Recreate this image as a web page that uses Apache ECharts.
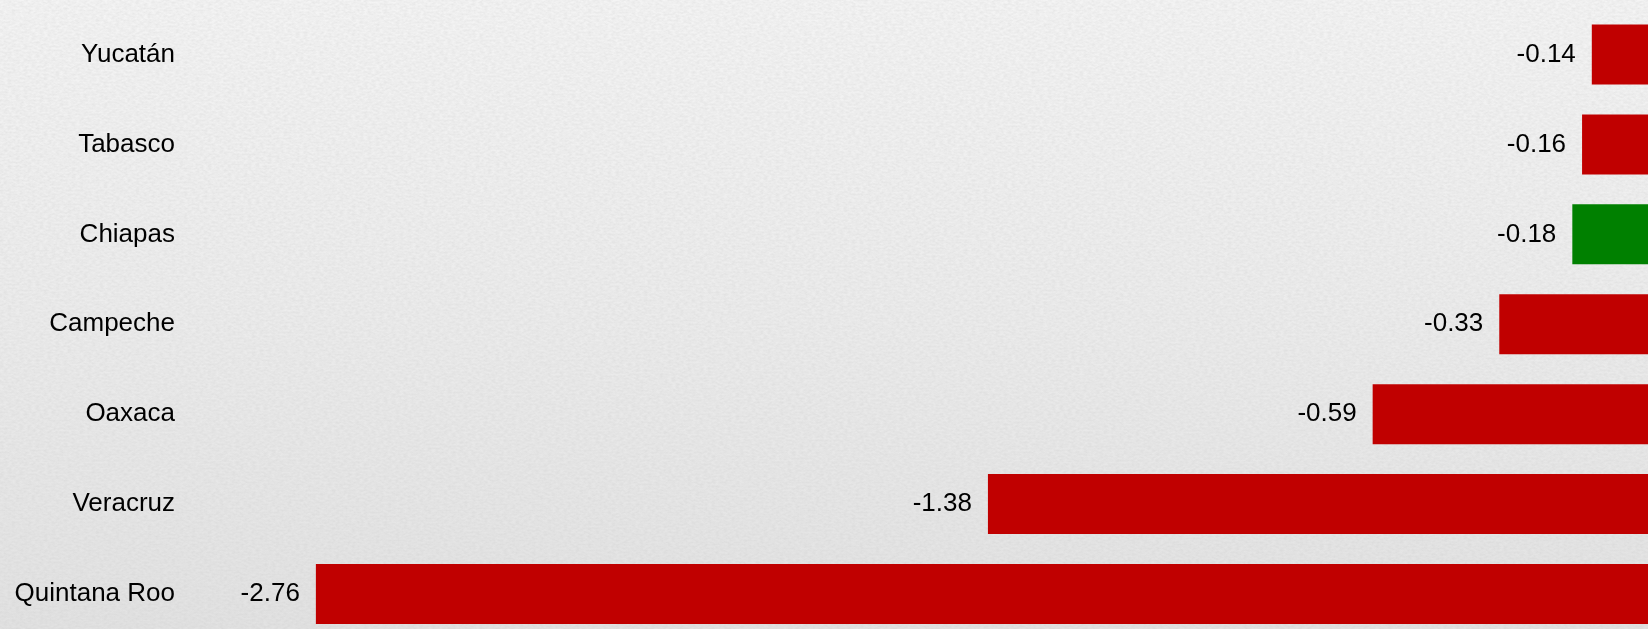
<!DOCTYPE html>
<html>
<head>
<meta charset="utf-8">
<script src="https://cdn.jsdelivr.net/npm/echarts@6/dist/echarts.min.js"></script>
<style>
html,body{margin:0;padding:0;}
#wrap{position:relative;width:1648px;height:629px;background:linear-gradient(180deg,#f4f4f4 0%,#ececec 50%,#e2e2e2 100%);overflow:hidden;}
#tex{position:absolute;left:0;top:0;width:1648px;height:629px;opacity:0.35;}
#c{position:absolute;left:0;top:0;width:1648px;height:629px;}
</style>
</head>
<body>
<div id="wrap">
<svg id="tex" xmlns="http://www.w3.org/2000/svg" width="1648" height="629">
  <filter id="paper">
    <feTurbulence type="fractalNoise" baseFrequency="0.25 0.5" numOctaves="3" seed="3"/>
    <feColorMatrix type="matrix" values="0 0 0 0 0.55  0 0 0 0 0.55  0 0 0 0 0.55  0 0 0 -1.2 0.9"/>
  </filter>
  <rect width="100%" height="100%" filter="url(#paper)"/>
</svg>
<div id="c"></div>
</div>
<script>
var categories = ["Yucatán","Tabasco","Chiapas","Campeche","Oaxaca","Veracruz","Quintana Roo"];
var values = [-0.14,-0.16,-0.18,-0.33,-0.59,-1.38,-2.76];
var barColors = ["#C00000","#C00000","#008000","#C00000","#C00000","#C00000","#C00000"];

var chart = echarts.init(document.getElementById('c'), null, {renderer:'canvas'});
chart.setOption({
  backgroundColor: 'transparent',
  animation: false,
  grid: {left: 199, right: 0, top: 54.5, bottom: 35, containLabel: false},
  xAxis: {
    type: 'value', min: -3, max: -0.0246,
    show: false, splitLine: {show: false}
  },
  yAxis: {
    type: 'category', data: categories, inverse: true, boundaryGap: false,
    axisLine: {show: false}, axisTick: {show: false}, splitLine: {show: false},
    axisLabel: {color: '#000', fontSize: 26, fontFamily: 'Liberation Sans, Arial, sans-serif', margin: 24}
  },
  series: [{
    type: 'bar',
    barWidth: 60,
    clip: false,
    data: values.map(function(v, i){ return {value: v, itemStyle: {color: barColors[i]}}; }),
    label: {
      show: true, position: 'left', distance: 16,
      color: '#000', fontSize: 26, fontFamily: 'Liberation Sans, Arial, sans-serif',
      formatter: function(p){ return p.value.toFixed(2); }
    }
  }]
});
</script>
</body>
</html>
